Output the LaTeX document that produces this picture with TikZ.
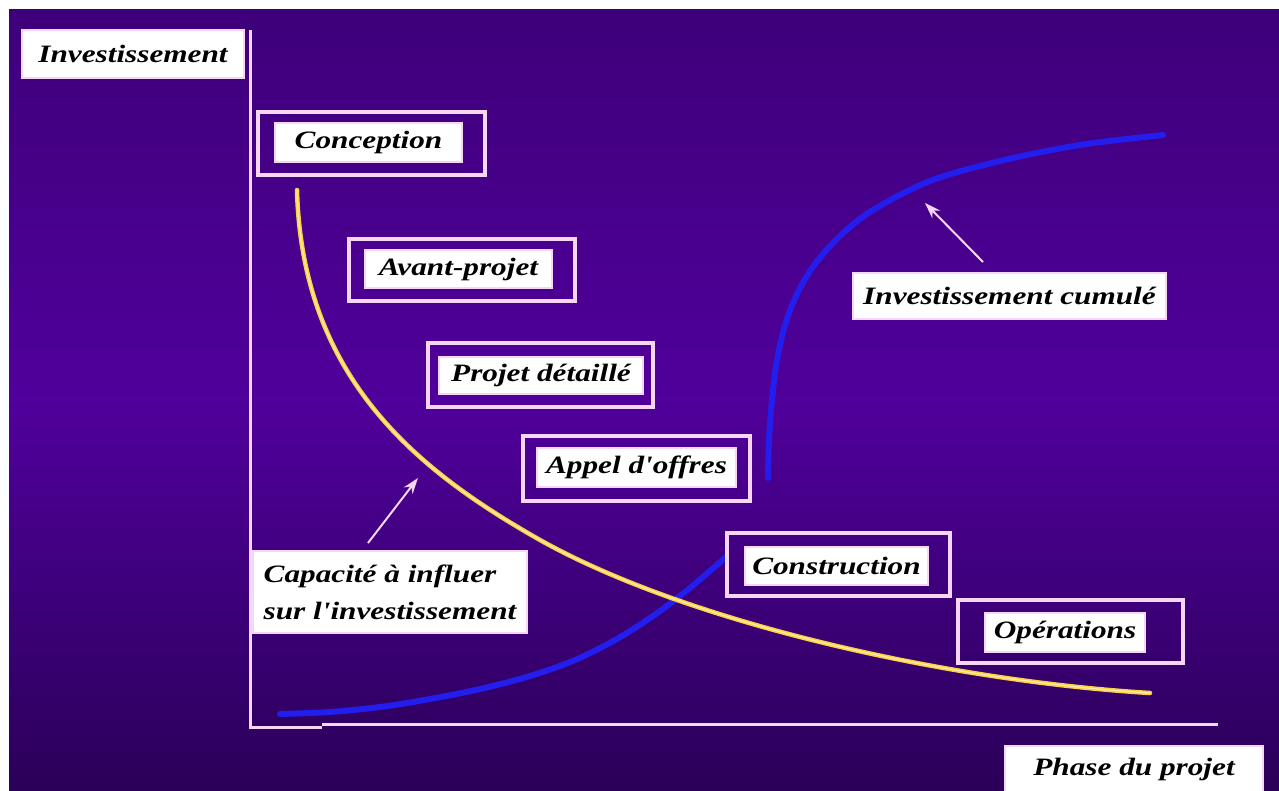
\documentclass[tikz,border=0pt]{standalone}
\usepackage{fontspec}
\newfontfamily\labfont{Liberation Serif}[FakeStretch=1.25]
\usetikzlibrary{arrows.meta}
\definecolor{lav}{RGB}{245,215,245}
\definecolor{bgtop}{RGB}{62,0,122}
\definecolor{bgmid}{RGB}{80,0,155}
\definecolor{bgbot}{RGB}{42,0,88}
\definecolor{cblue}{RGB}{35,30,235}
\definecolor{cyellow}{RGB}{255,208,70}
\definecolor{cyellowl}{RGB}{255,240,175}
\begin{document}
\begin{tikzpicture}[x=1pt,y=-1pt,
  labtext/.style={font=\labfont\bfseries\itshape\fontsize{25}{37}\selectfont, text=black},
  whitebox/.style={labtext, fill=white, draw=lav, line width=1.5pt, inner sep=0pt},
  phaseframe/.style={draw=lav, line width=3.5pt, inner sep=0pt},
  axisline/.style={draw=lav, line width=3pt},
  arrowst/.style={draw=lav, line width=2pt, -{Stealth[length=16pt,width=11pt]}},
  bluecurve/.style={draw=cblue, line width=6pt, line cap=round},
  yellowcurve/.style={draw=cyellow, line width=4.5pt, line cap=round},
  yellowcore/.style={draw=cyellowl, line width=1.2pt, line cap=round}
]
\useasboundingbox (0,0) rectangle (1279,791);
\fill[white] (0,0) rectangle (1279,791);
\shade[top color=bgtop, bottom color=bgbot, middle color=bgmid] (9,10) rectangle (1279,791);

% axes
\coordinate (ytop) at (250,30);
\coordinate (orig) at (250,727);
\coordinate (xstep) at (322,727);
\coordinate (xstepb) at (322,724);
\coordinate (xend) at (1218,724);
\draw[axisline] (ytop) -- (orig) -- (xstep);
\draw[axisline] (xstepb) -- (xend);

% cumulative investment curve (blue), two visible pieces
\draw[bluecurve] plot[smooth, tension=0.55] coordinates {(280,714) (330,712) (380,707) (430,699) (480,689) (530,676) (575,660) (615,640) (650,618) (685,592) (726,557)};
\draw[bluecurve] plot[smooth, tension=0.55] coordinates {(768,478) (769,440) (772,400) (777,360) (786,322) (798,292) (815,264) (840,236) (873,210) (930,181) (1000,161) (1080,145) (1163,135)};

% influence capacity curve (yellow)
\coordinate (ys) at (297,190);
\coordinate (ym) at (540,540);
\coordinate (ye) at (1150,693);
\draw[yellowcurve] (ys) .. controls (302,380) and (420,472) .. (ym) .. controls (690,624) and (950,681) .. (ye);
\draw[yellowcore] (ys) .. controls (302,380) and (420,472) .. (ym) .. controls (690,624) and (950,681) .. (ye);

% axis labels
\node[whitebox, minimum width=222pt, minimum height=48pt] (ylab) at (133,54) {Investissement};
\node[whitebox, minimum width=258pt, minimum height=46pt] (xlab) at (1134,769) {Phase du projet};

% phase boxes
\node[phaseframe, minimum width=227pt, minimum height=63pt] (fconc) at (371.5,143.5) {};
\node[whitebox, minimum width=187pt, minimum height=39pt] (conc) at (368.5,142.5) {Conception};

\node[phaseframe, minimum width=226pt, minimum height=62pt] (favp) at (462,270) {};
\node[whitebox, minimum width=187pt, minimum height=38pt] (avp) at (458.5,269) {Avant-projet};

\node[phaseframe, minimum width=225pt, minimum height=64pt] (fpd) at (540.5,375) {};
\node[whitebox, minimum width=204pt, minimum height=37pt] (pd) at (541,375.5) {Projet détaillé};

\node[phaseframe, minimum width=227pt, minimum height=65pt] (fao) at (636.5,468.5) {};
\node[whitebox, minimum width=199pt, minimum height=39pt] (ao) at (636.5,467.5) {Appel d'offres};

\node[phaseframe, minimum width=223pt, minimum height=63pt] (fcons) at (838.5,564.5) {};
\node[whitebox, minimum width=183pt, minimum height=38pt] (cons) at (836.5,566) {Construction};

\node[phaseframe, minimum width=225pt, minimum height=63pt] (fop) at (1070.5,631.5) {};
\node[whitebox, minimum width=160pt, minimum height=39pt] (op) at (1065,632.5) {Opérations};

% curve labels
\node[whitebox, minimum width=274pt, minimum height=82pt, align=left] (cap) at (390,592) {Capacité à influer\\sur l'investissement};
\node[whitebox, minimum width=313pt, minimum height=46pt] (cum) at (1009.5,296) {Investissement cumulé};

% pointer arrows
\coordinate (capfrom) at (368,543);
\coordinate (capto) at (418,478);
\coordinate (cumfrom) at (983,262);
\coordinate (cumto) at (925,203);
\draw[arrowst] (capfrom) -- (capto);
\draw[arrowst] (cumfrom) -- (cumto);
\end{tikzpicture}
\end{document}
